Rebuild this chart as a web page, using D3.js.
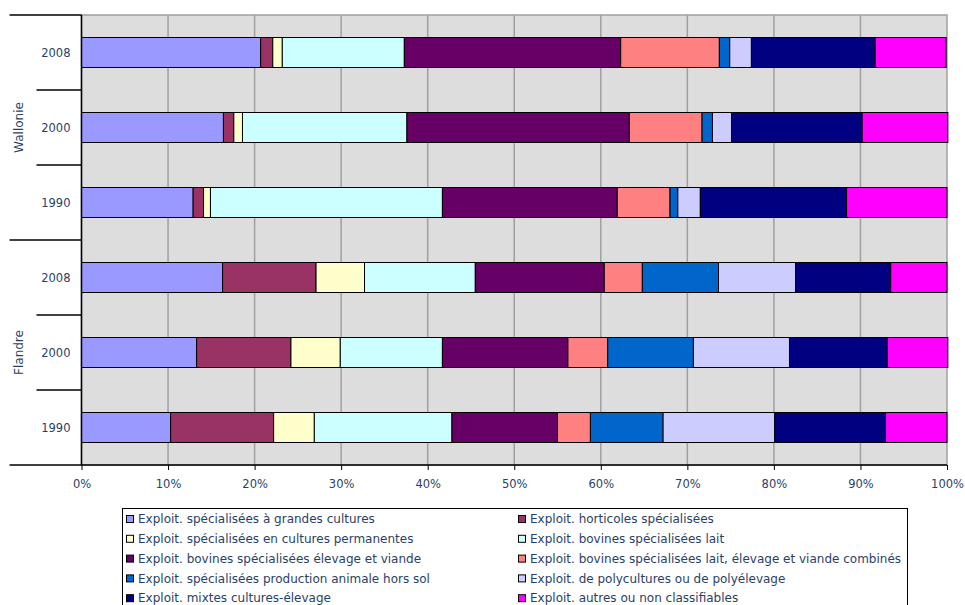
<!DOCTYPE html>
<html>
<head>
<meta charset="utf-8">
<script src="https://cdn.jsdelivr.net/npm/d3@7"></script>
<style>
  body { margin: 0; background: #fff; }
  text { font-family: "DejaVu Sans", Verdana, sans-serif; }
</style>
</head>
<body>
<div id="chart"></div>
<script>
// chart size
var chart_width = 965;
var chart_height = 605;

var regions = ["Wallonie", "Flandre"];
var years = ["2008", "2000", "1990"];
var series = [
  "Exploit. spécialisées à grandes cultures",
  "Exploit. horticoles spécialisées",
  "Exploit. spécialisées en cultures permanentes",
  "Exploit. bovines spécialisées lait",
  "Exploit. bovines spécialisées élevage et viande",
  "Exploit. bovines spécialisées lait, élevage et viande combinés",
  "Exploit. spécialisées production animale hors sol",
  "Exploit. de polycultures ou de polyélevage",
  "Exploit. mixtes cultures-élevage",
  "Exploit. autres ou non classifiables"
];
var colors = ["#9999FF", "#993366", "#FFFFCC", "#CCFFFF", "#660066",
              "#FF8080", "#0066CC", "#CCCCFF", "#000080", "#FF00FF"];

// shares (%) per row, rows top to bottom
var wallonie2008 = [20.7, 1.4, 1.1, 14.1, 25.0, 11.4, 1.2, 2.5, 14.3, 8.2];
var wallonie2000 = [16.4, 1.2, 1.0, 19.0, 25.7, 8.4, 1.2, 2.2, 15.1, 9.9];
var wallonie1990 = [12.9, 1.2, 0.8, 26.8, 20.2, 6.1, 0.9, 2.6, 16.9, 11.6];
var flandre2008 = [16.3, 10.8, 5.6, 12.8, 14.9, 4.4, 8.8, 8.9, 11.0, 6.5];
var flandre2000 = [13.3, 10.9, 5.7, 11.8, 14.5, 4.6, 9.9, 11.1, 11.3, 7.0];
var flandre1990 = [10.3, 11.9, 4.7, 15.9, 12.2, 3.8, 8.4, 12.9, 12.8, 7.1];

var xTicks = [0, 10, 20, 30, 40, 50, 60, 70, 80, 90, 100];

var rows = [
  {region: "Wallonie", year: "2008", values: wallonie2008},
  {region: "Wallonie", year: "2000", values: wallonie2000},
  {region: "Wallonie", year: "1990", values: wallonie1990},
  {region: "Flandre", year: "2008", values: flandre2008},
  {region: "Flandre", year: "2000", values: flandre2000},
  {region: "Flandre", year: "1990", values: flandre1990}
];
rows.forEach(function(r, i) { r.key = r.region + " " + r.year; });

var margin = {top: 15, left: 81.5, right: 18, bottom: 140};
var plotW = chart_width - margin.left - margin.right;
var plotH = chart_height - margin.top - margin.bottom;
var textColor = "#2A3F66";

var svg = d3.select("#chart").append("svg")
  .attr("width", chart_width)
  .attr("height", chart_height);

var g = svg.append("g").attr("transform", "translate(" + margin.left + "," + margin.top + ")");

var x = d3.scaleLinear().domain([0, 100]).range([0, plotW]);
var y = d3.scaleBand().domain(rows.map(function(r) { return r.key; })).range([0, plotH]).padding(0);
var barH = y.bandwidth() * 0.4;

// plot background
g.append("rect")
  .attr("width", plotW).attr("height", plotH)
  .attr("fill", "#DDDDDD")
  .attr("stroke", "#A0A0A0").attr("stroke-width", 1.5);

// vertical gridlines
g.selectAll(".grid").data(xTicks.slice(1, -1)).enter().append("line")
  .attr("x1", function(d) { return x(d); }).attr("x2", function(d) { return x(d); })
  .attr("y1", 0).attr("y2", plotH)
  .attr("stroke", "#A0A0A0").attr("stroke-width", 1.5);

// stacked bars
var stackData = rows.map(function(r) {
  var o = {key: r.key};
  r.values.forEach(function(v, i) { o["s" + i] = v; });
  return o;
});
var stack = d3.stack().keys(series.map(function(s, i) { return "s" + i; }));
var layers = stack(stackData);

g.selectAll(".layer").data(layers).enter().append("g")
  .attr("fill", function(d, i) { return colors[i]; })
  .selectAll("rect").data(function(d) { return d; }).enter().append("rect")
  .attr("x", function(d) { return x(d[0]); })
  .attr("width", function(d) { return x(d[1]) - x(d[0]); })
  .attr("y", function(d) { return y(d.data.key) + (y.bandwidth() - barH) / 2; })
  .attr("height", barH)
  .attr("stroke", "#000").attr("stroke-width", 1);

// x axis
var xAxis = d3.axisBottom(x).tickValues(xTicks).tickSize(5)
  .tickFormat(function(d) { return d + "%"; });
var xg = g.append("g").attr("transform", "translate(0," + plotH + ")").call(xAxis);
xg.select(".domain").attr("stroke", "#000").attr("stroke-width", 1.5)
  .attr("d", "M" + (-72) + ",0H" + plotW);
xg.selectAll(".tick line").attr("stroke", "#000");
xg.selectAll(".tick text")
  .attr("y", 15)
  .attr("fill", textColor)
  .style("font-size", "11.5px")
  .style("font-family", "'DejaVu Sans', Verdana, sans-serif");

// y axis line
g.append("line").attr("x1", 0).attr("x2", 0).attr("y1", 0).attr("y2", plotH)
  .attr("stroke", "#000").attr("stroke-width", 1.5);

// row separators on the left
var groupH = plotH / regions.length;
rows.forEach(function(r, i) {
  var yy = y(r.key);
  var isGroup = (i % years.length === 0);
  g.append("line")
    .attr("x1", isGroup ? -72 : -45).attr("x2", 0)
    .attr("y1", yy).attr("y2", yy)
    .attr("stroke", "#000").attr("stroke-width", 1.5);
});

// year labels
g.selectAll(".year").data(rows).enter().append("text")
  .attr("x", -11)
  .attr("y", function(d) { return y(d.key) + y.bandwidth() / 2; })
  .attr("dy", "0.35em")
  .attr("text-anchor", "end")
  .attr("fill", textColor)
  .style("font-size", "11.5px")
  .text(function(d) { return d.year; });

// region labels
regions.forEach(function(reg, i) {
  var cy = groupH * i + groupH / 2;
  g.append("text")
    .attr("transform", "translate(-59," + cy + ") rotate(-90)")
    .attr("text-anchor", "middle")
    .attr("fill", textColor)
    .style("font-size", "12px")
    .text(reg);
});

// legend
var lg = svg.append("g");
lg.append("rect")
  .attr("x", 122.5).attr("y", 508.5)
  .attr("width", 785).attr("height", 110)
  .attr("fill", "#fff").attr("stroke", "#000").attr("stroke-width", 1);

var colX = [126, 518];
series.forEach(function(s, i) {
  var cx = colX[i % 2];
  var cy = 519 + Math.floor(i / 2) * 19.8;
  lg.append("rect")
    .attr("x", cx + 0.5).attr("y", cy - 3.5)
    .attr("width", 7).attr("height", 7)
    .attr("fill", colors[i]).attr("stroke", "#000").attr("stroke-width", 1);
  lg.append("text")
    .attr("x", cx + 12).attr("y", cy)
    .attr("dy", "0.35em")
    .attr("fill", textColor)
    .style("font-size", "12px")
    .text(s);
});
</script>
</body>
</html>
